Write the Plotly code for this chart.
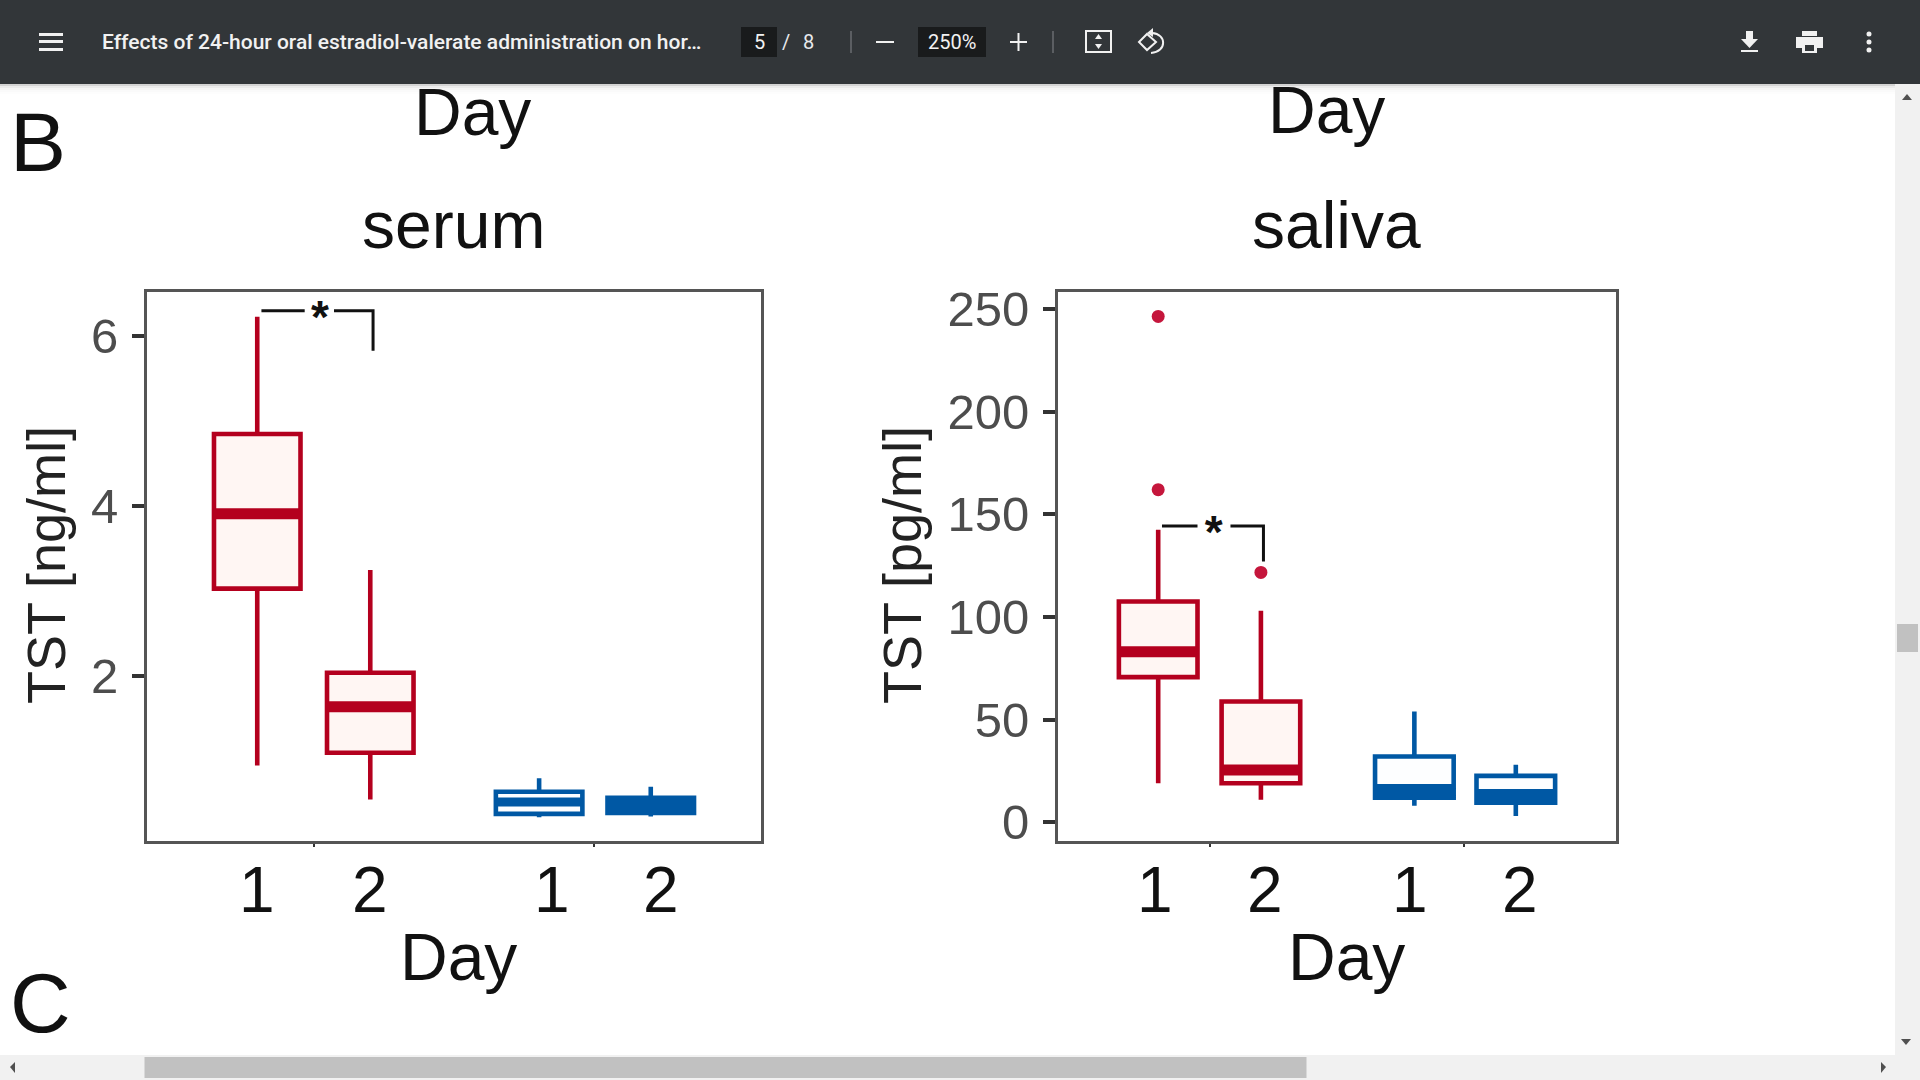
import plotly.graph_objects as go

W, H = 1920, 1080
RED, BLUE = "#B4001E", "#0058A4"
RED_FILL, BLUE_FILL = "#FFF6F3", "#FDFEFF"
OUTLIER = "#C5163C"

# ---------- data ----------
red_x = [0.795, 1.2]
blue_x = [1.805, 2.205]
box_width = 0.31

serum_red_q1 = [3.03, 1.10]
serum_red_median = [3.91, 1.64]
serum_red_q3 = [4.85, 2.04]
serum_red_low = [0.95, 0.55]
serum_red_high = [6.23, 3.25]
serum_blue_q1 = [0.38, 0.39]
serum_blue_median = [0.52, 0.49]
serum_blue_q3 = [0.64, 0.57]
serum_blue_low = [0.34, 0.35]
serum_blue_high = [0.80, 0.70]

saliva_red_q1 = [70.7, 19]
saliva_red_median = [83, 25.5]
saliva_red_q3 = [107.5, 58.8]
saliva_red_low = [19, 11]
saliva_red_high = [142.5, 103]
saliva_blue_q1 = [12, 9.5]
saliva_blue_median = [15.4, 13]
saliva_blue_q3 = [32, 22.6]
saliva_blue_low = [8, 3]
saliva_blue_high = [54, 28]
saliva_out_x = [0.795, 0.795, 1.2]
saliva_out_y = [246.4, 162, 121.7]

serum_yticks = [2, 4, 6]
saliva_yticks = [0, 50, 100, 150, 200, 250]
serum_range = [0.067, 6.52]
saliva_range = [-8.9, 258.3]
day_tick_labels = ["1", "2", "1", "2"]
serum_label_x = [0.795, 1.2, 1.85, 2.24]
saliva_label_x = [0.784, 1.217, 1.788, 2.22]
serum_bracket = ([0.81, 0.965, None, 1.07, 1.21, 1.21], [6.30, 6.30, None, 6.30, 6.30, 5.83])
saliva_bracket = ([0.81, 0.95, None, 1.08, 1.21, 1.21], [144.3, 144.3, None, 144.3, 144.3, 127])
serum_star = (1.02, 6.17)
saliva_star = (1.014, 139)
serum_median_widths = {"red": [11, 11], "blue": [9, 17]}
saliva_median_widths = {"red": [11, 11], "blue": [13, 13]}

# ---------- helpers ----------
px = lambda x: x / W
py = lambda y: 1 - y / H
shapes, annots = [], []

def rect(x0, y0, x1, y1, color, opacity=1):
    shapes.append(dict(type="rect", xref="paper", yref="paper", x0=px(x0), x1=px(x1), y0=py(y0), y1=py(y1),
                       fillcolor=color, line_width=0, layer="above", opacity=opacity))

def line(x0, y0, x1, y1, color, w):
    shapes.append(dict(type="line", xref="paper", yref="paper", x0=px(x0), x1=px(x1), y0=py(y0), y1=py(y1),
                       line=dict(color=color, width=w), layer="above"))

def path(points, fill=None, color=None, w=0, close=True):
    d = "M" + " L".join(f"{px(x):.5f},{py(y):.5f}" for x, y in points) + (" Z" if close else "")
    shapes.append(dict(type="path", xref="paper", yref="paper", path=d, fillcolor=fill if fill else "rgba(0,0,0,0)",
                       line=dict(color=color if color else "rgba(0,0,0,0)", width=w), layer="above"))

def curve(d, color, w):
    shapes.append(dict(type="path", xref="paper", yref="paper", path=d, fillcolor="rgba(0,0,0,0)",
                       line=dict(color=color, width=w), layer="above"))

def label(text, x, y, size, color="#111111", family="Liberation Sans", angle=0, weight=None):
    f = dict(size=size, color=color, family=family)
    if weight:
        f["weight"] = weight
    annots.append(dict(text=text, x=px(x), y=py(y), xref="paper", yref="paper", xanchor="center", yanchor="middle",
                       showarrow=False, font=f, textangle=angle))

fig = go.Figure()

def add_panel(n, xdom, ydom, yrange, yticks, red, blue, bracket, star, label_x, med_w):
    xa, ya = f"x{n}", f"y{n}"
    for xs, vals, col, fill, name, widths in [(red_x, red, RED, RED_FILL, "Red", med_w["red"]),
                                              (blue_x, blue, BLUE, BLUE_FILL, "Blue", med_w["blue"])]:
        q1, med, q3, lo, hi = vals
        fig.add_trace(go.Box(x=xs, q1=q1, median=med, q3=q3, lowerfence=lo, upperfence=hi, width=box_width,
                             xaxis=xa, yaxis=ya, boxpoints=False, whiskerwidth=0, fillcolor=fill,
                             line=dict(color=col, width=4.6), showlegend=False, name=name))
        for x, m, w in zip(xs, med, widths):
            fig.add_trace(go.Scatter(x=[x - box_width / 2, x + box_width / 2], y=[m, m], xaxis=xa, yaxis=ya,
                                     mode="lines", showlegend=False, line=dict(color=col, width=w)))
    fig.add_trace(go.Scatter(x=bracket[0], y=bracket[1], xaxis=xa, yaxis=ya, mode="lines", showlegend=False,
                             line=dict(color="#111111", width=3)))
    fig.add_trace(go.Scatter(x=[star[0]], y=[star[1]], xaxis=xa, yaxis=ya, mode="text", text=["*"], showlegend=False,
                             textposition="middle center",
                             textfont=dict(size=46, color="#111111", family="Liberation Sans", weight=700)))
    axis_common = dict(showline=True, mirror=True, linecolor="#555555", linewidth=3, showgrid=False, zeroline=False)
    fig.update_layout(**{
        ("xaxis" if n == "" else f"xaxis{n}"): dict(domain=[px(xdom[0]), px(xdom[1])], range=[0.4, 2.6], anchor=ya,
                                                   tickvals=[1, 2], ticks="outside", ticklen=3, tickwidth=2,
                                                   tickcolor="#333333", showticklabels=False, **axis_common),
        ("yaxis" if n == "" else f"yaxis{n}"): dict(domain=[py(ydom[1]), py(ydom[0])], range=yrange, anchor=xa,
                                                   tickvals=yticks, ticks="outside", ticklen=12, tickwidth=3.5,
                                                   tickcolor="#333333",
                                                   tickfont=dict(size=49, color="#4D4D4D", family="Liberation Sans"),
                                                   ticklabelstandoff=4, **axis_common),
    })
    for lx, t in zip(label_x, day_tick_labels):
        annots.append(dict(text=t, x=lx, y=0, xref=xa, yref=f"{ya} domain", xanchor="center", yanchor="top", yshift=-11,
                           showarrow=False, font=dict(size=64, color="#111111", family="Liberation Sans")))

add_panel("", (147, 761), (292, 840.5), serum_range, serum_yticks,
          (serum_red_q1, serum_red_median, serum_red_q3, serum_red_low, serum_red_high),
          (serum_blue_q1, serum_blue_median, serum_blue_q3, serum_blue_low, serum_blue_high),
          serum_bracket, serum_star, serum_label_x, serum_median_widths)
add_panel("2", (1058, 1616), (292, 840.5), saliva_range, saliva_yticks,
          (saliva_red_q1, saliva_red_median, saliva_red_q3, saliva_red_low, saliva_red_high),
          (saliva_blue_q1, saliva_blue_median, saliva_blue_q3, saliva_blue_low, saliva_blue_high),
          saliva_bracket, saliva_star, saliva_label_x, saliva_median_widths)
fig.add_trace(go.Scatter(x=saliva_out_x, y=saliva_out_y, xaxis="x2", yaxis="y2", mode="markers", showlegend=False,
                         marker=dict(color=OUTLIER, size=13)))

# ---------- page text ----------
label("B", 38, 142, 84, "#111111")
label("C", 40, 1003, 84, "#111111")
label("Day", 472, 112, 66)
label("Day", 1326, 110, 66)
label("serum", 453, 225, 66)
label("saliva", 1336, 225, 66)
label("Day", 458, 957, 66)
label("Day", 1346, 957, 66)
label("TST [ng/ml]", 46, 565, 54, "#222222", angle=-90)
label("TST [pg/ml]", 902, 565, 54, "#222222", angle=-90)

# ---------- viewer chrome ----------
TB = "#323639"
for i, (op, c) in enumerate([(0.35, "#808080"), (0.18, "#909090"), (0.10, "#A0A0A0"), (0.06, "#B0B0B0"), (0.03, "#C0C0C0")]):
    rect(0, 84 + i * 2, W, 86 + i * 2, c, op)
rect(0, 0, W, 84, TB)
rect(1895, 84, W, H, "#F1F1F1")
rect(0, 1055, W, H, "#F1F1F1")
rect(1897, 624, 1918, 652, "#C1C1C1")
rect(144.5, 1057, 1306.5, 1078, "#C1C1C1")
path([(1907, 94), (1902, 100), (1912, 100)], fill="#505050")
path([(1906, 1045), (1901, 1039), (1911, 1039)], fill="#505050")
path([(10, 1067), (15, 1062), (15, 1073)], fill="#505050")
path([(1886, 1067), (1881, 1062), (1881, 1073)], fill="#505050")

for y in (33, 40, 48):
    rect(39, y, 63, y + 3, "#F1F1F1")
label("Effects of 24-hour oral estradiol-valerate administration on hor…", 401, 42, 21, "#F1F1F1", "Roboto", weight=500)
rect(741, 27, 777, 57, "#191B1C")
label("5", 759, 42, 20, "#F1F1F1", "Roboto")
label("/", 786, 42, 20, "#E8EAED", "Roboto")
label("8", 808, 42, 20, "#E8EAED", "Roboto")
line(851, 31, 851, 53, "#6A6D70", 1.5)
rect(876, 41, 894, 43, "#F1F1F1")
rect(918, 27, 986, 57, "#191B1C")
label("250%", 952, 42, 20, "#F1F1F1", "Roboto")
rect(1010, 41, 1027, 43, "#F1F1F1")
rect(1017.5, 33, 1019.5, 51, "#F1F1F1")
line(1053, 31, 1053, 53, "#6A6D70", 1.5)

# fit icon
shapes.append(dict(type="rect", xref="paper", yref="paper", x0=px(1086), x1=px(1111), y0=py(31), y1=py(52),
                   line=dict(color="#F1F1F1", width=2), fillcolor="rgba(0,0,0,0)", layer="above"))
path([(1098.5, 34), (1095, 39), (1102, 39)], fill="#F1F1F1")
path([(1098.5, 49), (1095, 44), (1102, 44)], fill="#F1F1F1")

# rotate icon
path([(1147, 34), (1156, 42), (1147, 50), (1139, 42)], color="#F1F1F1", w=2)
curve(f"M{px(1152):.5f},{py(33):.5f} C{px(1167):.5f},{py(34):.5f} {px(1167):.5f},{py(52):.5f} {px(1151):.5f},{py(53):.5f}",
      "#F1F1F1", 2)
path([(1153, 28), (1147, 33), (1153, 37)], fill="#F1F1F1")

# download icon
rect(1746, 31, 1753, 40, "#F1F1F1")
path([(1741, 39), (1758, 39), (1749.5, 48)], fill="#F1F1F1")
rect(1741, 50, 1758, 52, "#F1F1F1")

# print icon
rect(1802, 31, 1817, 36, "#F1F1F1")
rect(1796, 37, 1823, 48, "#F1F1F1")
rect(1802, 44, 1817, 53, "#F1F1F1")
rect(1805, 45, 1814, 51, TB)

# menu dots
for y in (34, 42, 50):
    shapes.append(dict(type="circle", xref="paper", yref="paper", x0=px(1866.5), x1=px(1871.5), y0=py(y - 2.5), y1=py(y + 2.5),
                       fillcolor="#F1F1F1", line_width=0, layer="above"))

fig.update_layout(width=W, height=H, margin=dict(l=0, r=0, t=0, b=0, autoexpand=False), paper_bgcolor="white",
                  plot_bgcolor="white", boxmode="overlay", showlegend=False, shapes=shapes, annotations=annots)

fig.write_html("out.html", config=dict(displayModeBar=False),
               post_script="document.body.style.margin='0';document.body.style.overflow='hidden';")
